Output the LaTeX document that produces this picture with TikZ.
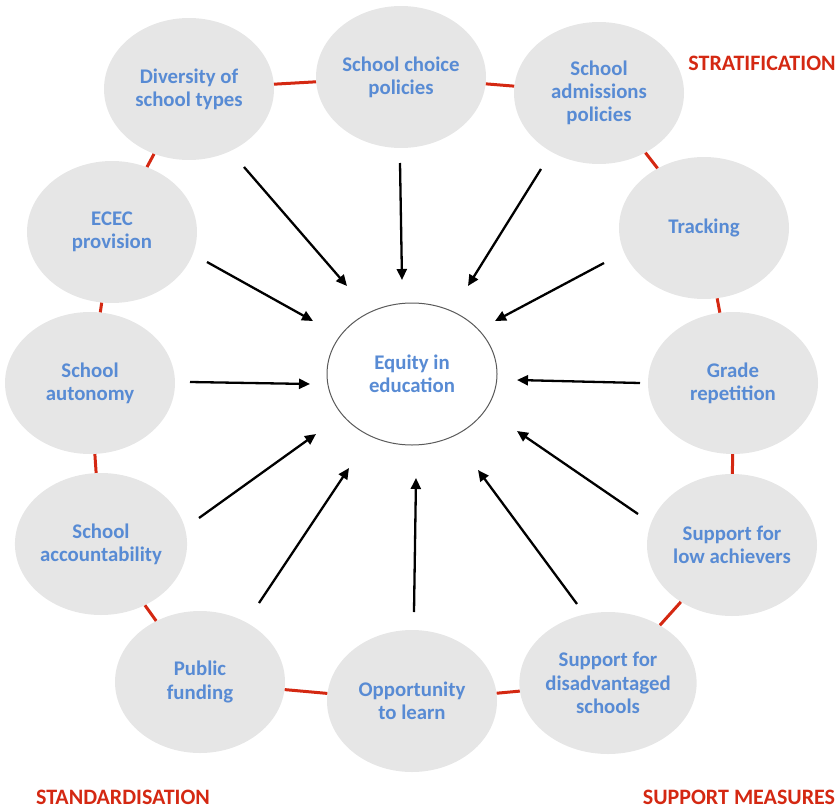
\documentclass[tikz,border=0pt]{standalone}
\usepackage{fontspec}
\setmainfont{Carlito}
\usetikzlibrary{arrows.meta,shapes.geometric}
\definecolor{ovalgray}{RGB}{230,230,230}
\definecolor{txtblue}{RGB}{88,139,212}
\definecolor{lblred}{RGB}{212,40,18}
\definecolor{rimgray}{RGB}{90,90,90}
\tikzset{
  oval/.style={ellipse, fill=ovalgray, minimum width=170pt, minimum height=142pt, inner sep=0pt,
    align=center, text=txtblue, font=\fontsize{20.8}{23.2}\selectfont\bfseries},
  hub/.style={ellipse, draw=rimgray, line width=1pt, fill=white, minimum width=170pt, minimum height=142pt,
    inner sep=0pt, align=center, text=txtblue, font=\fontsize{20.8}{23.2}\selectfont\bfseries},
  redlink/.style={draw=lblred, line width=3pt},
  inarrow/.style={draw=black, line width=2.3pt, -{Triangle[length=11pt,width=10pt]}},
  grouplbl/.style={text=lblred, font=\fontsize{22}{26}\selectfont\bfseries, inner sep=0pt}
}
\begin{document}
\begin{tikzpicture}[x=1pt,y=-1pt]
\useasboundingbox (0,0) rectangle (837,808);
% outer ovals
\node[oval] (div) at (189,89) {Diversity of\\school types};
\node[oval] (cho) at (401,77) {School choice\\policies};
\node[oval] (adm) at (599,93) {School\\admissions\\policies};
\node[oval] (trk) at (704,228) {Tracking};
\node[oval] (grd) at (733,383) {Grade\\repetition};
\node[oval] (low) at (732,545) {Support for\\low achievers};
\node[oval] (dis) at (608,683) {Support for\\disadvantaged\\schools};
\node[oval] (opp) at (412,701) {Opportunity\\to learn};
\node[oval] (pub) at (200,682) {Public\\funding};
\node[oval] (acc) at (101,544) {School\\accountability};
\node[oval] (aut) at (90,383) {School\\autonomy};
\node[oval] (ece) at (112,232) {ECEC\\provision};
% hub
\node[hub] (hub) at (412,374) {Equity in\\education};
% red links
\draw[redlink] (div) -- (cho);
\draw[redlink] (cho) -- (adm);
\draw[redlink] (adm) -- (trk);
\draw[redlink] (trk) -- (grd);
\draw[redlink] (grd) -- (low);
\draw[redlink] (low) -- (dis);
\draw[redlink] (dis) -- (opp);
\draw[redlink] (opp) -- (pub);
\draw[redlink] (pub) -- (acc);
\draw[redlink] (acc) -- (aut);
\draw[redlink] (aut) -- (ece);
\draw[redlink] (ece) -- (div);
% arrow ends
\coordinate (s1) at (244,167); \coordinate (e1) at (347,286);
\coordinate (s2) at (400,163); \coordinate (e2) at (402,280);
\coordinate (s3) at (541,169); \coordinate (e3) at (468,286);
\coordinate (s4) at (604,263); \coordinate (e4) at (495,321);
\coordinate (s5) at (207,262); \coordinate (e5) at (313,321);
\coordinate (s6) at (190,382); \coordinate (e6) at (310,384);
\coordinate (s7) at (199,518); \coordinate (e7) at (316,434);
\coordinate (s8) at (259,603); \coordinate (e8) at (349,468);
\coordinate (s9) at (414,612); \coordinate (e9) at (416,478);
\coordinate (s10) at (640,383); \coordinate (e10) at (517,380);
\coordinate (s11) at (638,514); \coordinate (e11) at (517,431);
\coordinate (s12) at (577,604); \coordinate (e12) at (478,470);
\foreach \i in {1,...,12} { \draw[inarrow] (s\i) -- (e\i); }
% group labels
\node[grouplbl] (strat) at (762,63) {STRATIFICATION};
\node[grouplbl] (stand) at (123,797) {STANDARDISATION};
\node[grouplbl] (supp) at (739,797) {SUPPORT MEASURES};
\end{tikzpicture}
\end{document}
